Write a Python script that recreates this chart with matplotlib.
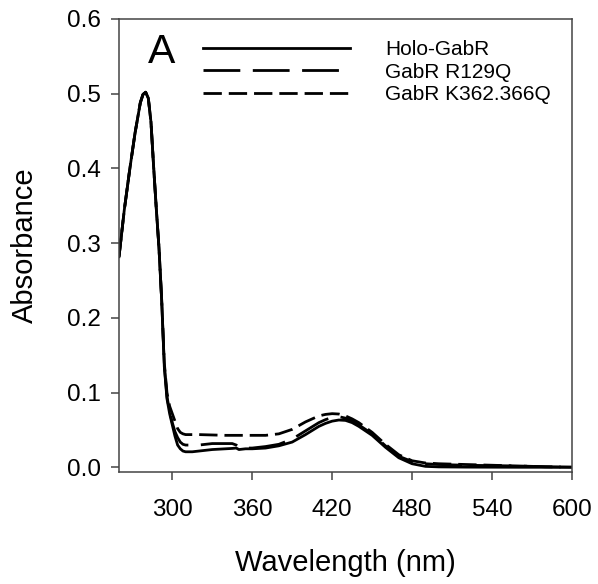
import numpy as np
import matplotlib
matplotlib.use("Agg")
import matplotlib.pyplot as plt

plt.rcParams['font.family'] = ['Liberation Sans', 'DejaVu Sans']
plt.rcParams['lines.scale_dashes'] = False

# wavelength grid (nm) and absorbance
wavelength = [260, 264, 268, 272, 276, 278, 280, 282, 284, 286, 288, 290, 292, 294,
              296, 298, 300, 302, 304, 306, 308, 310, 315, 320, 330, 340, 345, 348,
              350, 355, 360, 370, 380, 390, 400, 410, 415, 420, 425, 430, 435, 440,
              450, 460, 470, 480, 490, 500, 520, 540, 560, 580, 600]

holo = [0.282, 0.345, 0.398, 0.447, 0.488, 0.499, 0.502, 0.494, 0.462, 0.402, 0.346,
        0.294, 0.225, 0.135, 0.092, 0.072, 0.057, 0.042, 0.030, 0.025, 0.022, 0.021,
        0.021, 0.022, 0.024, 0.025, 0.0255, 0.026, 0.024, 0.025, 0.025, 0.026, 0.029,
        0.034, 0.044, 0.055, 0.059, 0.062, 0.0635, 0.063, 0.060, 0.055, 0.043, 0.027,
        0.013, 0.005, 0.0015, 0.0008, 0.0005, 0.0004, 0.0003, 0.0003, 0.0003]

r129q = [0.282, 0.345, 0.398, 0.447, 0.488, 0.499, 0.502, 0.494, 0.462, 0.402, 0.346,
         0.294, 0.225, 0.137, 0.095, 0.075, 0.060, 0.048, 0.040, 0.034, 0.031, 0.030,
         0.030, 0.030, 0.032, 0.032, 0.032, 0.030, 0.027, 0.026, 0.026, 0.028, 0.031,
         0.038, 0.049, 0.060, 0.064, 0.067, 0.068, 0.066, 0.062, 0.057, 0.045, 0.029,
         0.015, 0.008, 0.005, 0.004, 0.003, 0.0025, 0.002, 0.001, 0.0005]

k362q = [0.282, 0.345, 0.398, 0.447, 0.488, 0.499, 0.502, 0.494, 0.462, 0.402, 0.346,
         0.294, 0.225, 0.140, 0.100, 0.082, 0.072, 0.062, 0.052, 0.047, 0.045, 0.044,
         0.044, 0.044, 0.0435, 0.043, 0.043, 0.043, 0.043, 0.043, 0.043, 0.043, 0.045,
         0.051, 0.061, 0.069, 0.071, 0.072, 0.0715, 0.069, 0.065, 0.060, 0.047, 0.031,
         0.017, 0.009, 0.006, 0.005, 0.004, 0.003, 0.002, 0.001, 0.0005]

labels = ['Holo-GabR', 'GabR R129Q', 'GabR K362.366Q']

fig = plt.figure(figsize=(5.98, 5.84), dpi=100)
ax = fig.add_axes([0.199, 0.1926, 0.7575, 0.7749])

lw = 2.0
ax.plot(wavelength, holo, color='black', lw=lw, label=labels[0])
ax.plot(wavelength, r129q, color='black', lw=lw, dashes=(26.5, 9), label=labels[1])
ax.plot(wavelength, k362q, color='black', lw=lw, dashes=(13.2, 5), label=labels[2])

ax.set_xlim(260, 600)
ax.set_ylim(-0.0054, 0.6)
ax.set_xticks(np.arange(300, 601, 60))
ax.set_yticks(np.arange(0, 0.61, 0.1))
ax.set_yticklabels([f'{v:.1f}' for v in np.arange(0, 0.61, 0.1)])

for s in ax.spines.values():
    s.set_color('#444444')
    s.set_linewidth(1.1)
ax.tick_params(direction='out', length=6, width=1.1, color='#444444',
               labelsize=17.5, pad=7)
ax.tick_params(axis='x', pad=14)

ax.set_xlabel('Wavelength (nm)', fontsize=21, labelpad=20)
ax.set_ylabel('Absorbance', fontsize=21, labelpad=20)

ax.text(0.064, 0.9034, 'A', transform=ax.transAxes, fontsize=29.5, va='baseline')

ax.legend(loc='upper left', bbox_to_anchor=(0.1854, 0.954), frameon=False,
          fontsize=15, handlelength=7.05, handletextpad=1.7, labelspacing=0.18,
          borderpad=0, borderaxespad=0)

fig.savefig('out.png', dpi=100)
